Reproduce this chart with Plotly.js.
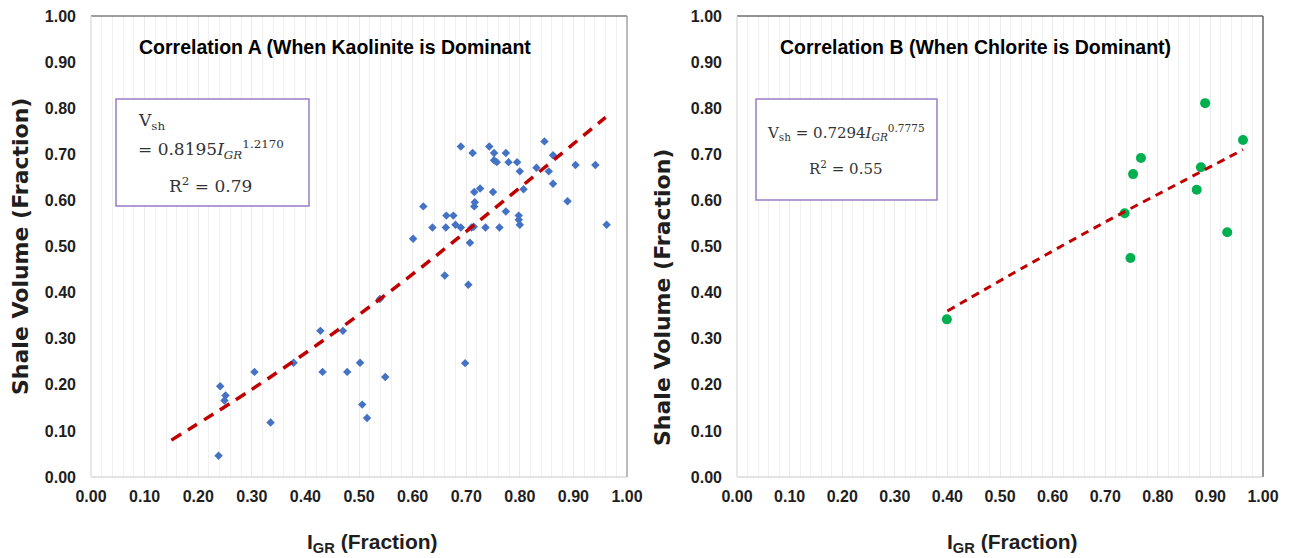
<!DOCTYPE html>
<html>
<head>
<meta charset="utf-8">
<script src="https://cdn.plot.ly/plotly-3.0.1.min.js"></script>
<style>html,body{margin:0;padding:0;background:#fff;}#chart{width:1291px;height:558px;}</style>
</head>
<body>
<div id="chart"></div>
<script>
// ---- Data ----
// Correlation A (Kaolinite dominant)
const kaoIGR = [0.601,0.620,0.637,0.662,0.663,0.676,0.680,0.690,0.690,0.712,0.707,0.710,0.714,0.715,0.716,0.715,0.726,0.736,0.743,0.750,0.752,0.752,0.757,0.762,0.774,0.774,0.779,0.795,0.798,0.798,0.800,0.800,0.807,0.831,0.846,0.854,0.862,0.862,0.889,0.904,0.941,0.962,
                0.660,0.704,0.698,
                0.539,0.428,0.470,0.378,0.305,0.432,0.478,0.502,0.549,0.241,0.251,0.249,0.506,0.515,0.335,0.238];
const kaoVsh = [0.517,0.587,0.541,0.541,0.567,0.567,0.547,0.541,0.717,0.703,0.508,0.541,0.543,0.587,0.596,0.618,0.626,0.541,0.717,0.618,0.703,0.687,0.683,0.541,0.703,0.576,0.683,0.683,0.567,0.558,0.547,0.663,0.624,0.671,0.728,0.663,0.698,0.636,0.598,0.677,0.677,0.547,
                0.437,0.417,0.247,
                0.386,0.317,0.317,0.248,0.228,0.228,0.228,0.248,0.217,0.197,0.177,0.166,0.157,0.128,0.118,0.046];
const kaoTrendX = [0.15,0.30,0.45,0.60,0.75,0.96];
const kaoTrendY = [0.08,0.19,0.31,0.44,0.58,0.78];

// Correlation B (Chlorite dominant)
const chlIGR = [0.399,0.737,0.748,0.753,0.768,0.874,0.882,0.890,0.932,0.962];
const chlVsh = [0.342,0.572,0.475,0.657,0.692,0.623,0.672,0.811,0.531,0.731];
const chlTrendX = [0.40,0.55,0.70,0.85,0.962];
const chlTrendY = [0.36,0.458,0.553,0.643,0.71];

const tickVals = [0,0.1,0.2,0.3,0.4,0.5,0.6,0.7,0.8,0.9,1.0];
const tickText = ['0.00','0.10','0.20','0.30','0.40','0.50','0.60','0.70','0.80','0.90','1.00'];

const titleA = 'Correlation A (When Kaolinite is Dominant';
const titleB = 'Correlation B (When Chlorite is Dominant)';
const yTitle = 'Shale Volume (Fraction)';
const xTitle = 'I<sub>GR</sub> (Fraction)';
const eqA1 = 'V<sub>sh</sub>';
const eqA2 = '= 0.8195<i>I<sub>GR</sub></i><sup>1.2170</sup>';
const eqA3 = 'R<sup>2</sup> = 0.79';
const eqB1 = 'V<sub>sh</sub> = 0.7294<i>I<sub>GR</sub></i><sup>0.7775</sup>';
const eqB2 = 'R<sup>2</sup> = 0.55';

// ---- Layout helpers ----
const W = 1291, H = 558;
const px = v => v / W;
const py = v => 1 - v / H;
const sans = 'Liberation Sans, Arial, sans-serif';
const wide = 'DejaVu Sans, Liberation Sans, sans-serif';
const serif = 'DejaVu Serif, Liberation Serif, serif';
const textCol = '#1e1e1e';

const traces = [
  {x: kaoIGR, y: kaoVsh, type: 'scatter', mode: 'markers', xaxis: 'x', yaxis: 'y',
   marker: {symbol: 'diamond', size: 6.5, color: '#4472c4'}},
  {x: kaoTrendX, y: kaoTrendY, type: 'scatter', mode: 'lines', xaxis: 'x', yaxis: 'y',
   line: {color: '#c00000', width: 3.5, dash: '11px,8px', shape: 'spline'}},
  {x: chlIGR, y: chlVsh, type: 'scatter', mode: 'markers', xaxis: 'x2', yaxis: 'y2',
   marker: {symbol: 'circle', size: 10, color: '#00b050'}},
  {x: chlTrendX, y: chlTrendY, type: 'scatter', mode: 'lines', xaxis: 'x2', yaxis: 'y2',
   line: {color: '#c00000', width: 3, dash: '8px,6px', shape: 'spline'}}
];

function xAxis(domain, anchor) {
  return {
    domain: domain, anchor: anchor, range: [0, 1], tickvals: tickVals, ticktext: tickText,
    showgrid: true, gridcolor: '#ebebeb', gridwidth: 1,
    minor: {dtick: 0.02, tick0: 0, showgrid: true, gridcolor: '#f0f0f0', gridwidth: 1},
    zeroline: false, showline: false, ticks: '', ticklabelstandoff: 8,
    tickfont: {family: sans, size: 16, color: textCol, weight: 'bold'},
    automargin: false, fixedrange: true
  };
}
function yAxis(domain, anchor) {
  return {
    domain: domain, anchor: anchor, range: [0, 1], tickvals: tickVals, ticktext: tickText,
    showgrid: false, zeroline: false, showline: false, ticks: '', ticklabelstandoff: 14,
    tickfont: {family: sans, size: 16, color: textCol, weight: 'bold'},
    automargin: false, fixedrange: true
  };
}

const yDom = [81 / H, 542 / H];
const layout = {
  width: W, height: H,
  margin: {l: 0, r: 0, t: 0, b: 0},
  paper_bgcolor: '#ffffff', plot_bgcolor: '#ffffff',
  showlegend: false,
  xaxis: xAxis([91 / W, 627 / W], 'y'),
  yaxis: yAxis(yDom, 'x'),
  xaxis2: xAxis([737 / W, 1263 / W], 'y2'),
  yaxis2: yAxis(yDom, 'x2'),
  shapes: [
    // left chart frame
    {type: 'line', xref: 'x domain', yref: 'y domain', x0: 0, x1: 1, y0: 1, y1: 1, line: {color: '#404040', width: 1.2}},
    {type: 'line', xref: 'x domain', yref: 'y domain', x0: 1, x1: 1, y0: 0, y1: 1, line: {color: '#8c8c8c', width: 1.2}},
    {type: 'line', xref: 'x domain', yref: 'y domain', x0: 0, x1: 1, y0: 0, y1: 0, line: {color: '#c8c8c8', width: 1.2}},
    {type: 'line', xref: 'x domain', yref: 'y domain', x0: 0, x1: 0, y0: 0, y1: 1, line: {color: '#d9d9d9', width: 1.2}},
    // right chart frame
    {type: 'line', xref: 'x2 domain', yref: 'y2 domain', x0: 0, x1: 1, y0: 1, y1: 1, line: {color: '#262626', width: 1.2}},
    {type: 'line', xref: 'x2 domain', yref: 'y2 domain', x0: 1, x1: 1, y0: 0, y1: 1, line: {color: '#404040', width: 1.2}},
    {type: 'line', xref: 'x2 domain', yref: 'y2 domain', x0: 0, x1: 1, y0: 0, y1: 0, line: {color: '#c8c8c8', width: 1.2}},
    {type: 'line', xref: 'x2 domain', yref: 'y2 domain', x0: 0, x1: 0, y0: 0, y1: 1, line: {color: '#d9d9d9', width: 1.2}},
    // equation boxes
    {type: 'rect', xref: 'paper', yref: 'paper', x0: px(116), x1: px(309), y0: py(206), y1: py(99),
     line: {color: '#9b7bc9', width: 1.5}, fillcolor: 'rgba(255,255,255,1)'},
    {type: 'rect', xref: 'paper', yref: 'paper', x0: px(756), x1: px(937), y0: py(200), y1: py(99),
     line: {color: '#9b7bc9', width: 1.5}, fillcolor: 'rgba(255,255,255,1)'}
  ],
  annotations: [
    {text: titleA, xref: 'paper', yref: 'paper', x: px(137), y: py(47), xanchor: 'left', yanchor: 'middle',
     showarrow: false, font: {family: sans, size: 19.5, color: '#000', weight: 'bold'}},
    {text: titleB, xref: 'paper', yref: 'paper', x: px(778), y: py(47), xanchor: 'left', yanchor: 'middle',
     showarrow: false, font: {family: sans, size: 19.5, color: '#000', weight: 'bold'}},
    {text: yTitle, xref: 'paper', yref: 'paper', x: px(20), y: py(247), xanchor: 'center', yanchor: 'middle',
     textangle: -90, showarrow: false, font: {family: wide, size: 22, color: textCol, weight: 'bold'}},
    {text: yTitle, xref: 'paper', yref: 'paper', x: px(662), y: py(298), xanchor: 'center', yanchor: 'middle',
     textangle: -90, showarrow: false, font: {family: wide, size: 22, color: textCol, weight: 'bold'}},
    {text: xTitle, xref: 'paper', yref: 'paper', x: px(372), y: py(543), xanchor: 'center', yanchor: 'middle',
     showarrow: false, font: {family: sans, size: 21, color: textCol, weight: 'bold'}},
    {text: xTitle, xref: 'paper', yref: 'paper', x: px(1012), y: py(543), xanchor: 'center', yanchor: 'middle',
     showarrow: false, font: {family: sans, size: 21, color: textCol, weight: 'bold'}},
    {text: eqA1, xref: 'paper', yref: 'paper', x: px(136), y: py(122), xanchor: 'left', yanchor: 'middle',
     showarrow: false, font: {family: serif, size: 17, color: '#333'}},
    {text: eqA2, xref: 'paper', yref: 'paper', x: px(136), y: py(149), xanchor: 'left', yanchor: 'middle',
     showarrow: false, font: {family: serif, size: 17, color: '#333'}},
    {text: eqA3, xref: 'paper', yref: 'paper', x: px(210), y: py(185), xanchor: 'center', yanchor: 'middle',
     showarrow: false, font: {family: serif, size: 17, color: '#333'}},
    {text: eqB1, xref: 'paper', yref: 'paper', x: px(846), y: py(133), xanchor: 'center', yanchor: 'middle',
     showarrow: false, font: {family: serif, size: 15, color: '#333'}},
    {text: eqB2, xref: 'paper', yref: 'paper', x: px(846), y: py(168), xanchor: 'center', yanchor: 'middle',
     showarrow: false, font: {family: serif, size: 15, color: '#333'}}
  ]
};

Plotly.newPlot('chart', traces, layout, {staticPlot: true, displayModeBar: false});
</script>
</body>
</html>
